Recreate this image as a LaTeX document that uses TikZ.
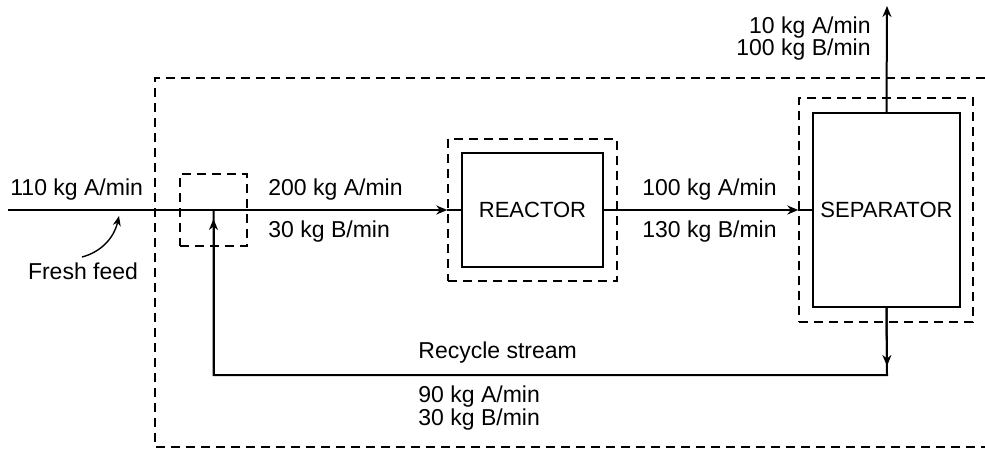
\documentclass[tikz,border=0pt]{standalone}
\usepackage{fontspec}
\setmainfont{Liberation Sans}
\usetikzlibrary{arrows.meta,positioning}
\tikzset{
  unit/.style={draw,line width=0.8pt,fill=white,inner sep=0pt,font=\fontsize{11}{13}\selectfont},
  env/.style={draw,line width=0.7pt,dash pattern=on 4.5pt off 3pt,inner sep=0pt},
  pipe/.style={line width=1pt},
  flow/.style={pipe,-{Stealth[length=5.5pt,width=4.5pt]}},
  lbl/.style={font=\fontsize{11.5}{13}\selectfont,inner sep=0pt},
}

\begin{document}
\begin{tikzpicture}[x=0.5pt,y=-0.5pt]
  \useasboundingbox (0,0) rectangle (985,450);

  % ---- overall balance envelope ----
  \draw[line width=0.7pt,dash pattern=on 4.5pt off 3pt] (985,78) -- (155,78) -- (155,447) -- (985,447);

  % ---- units ----
  \node[env,minimum width=33.5pt,minimum height=36pt] (mix) at (213.5,210) {};
  \node[env,minimum width=84.5pt,minimum height=71pt] (reactorenv) at (532.5,210) {};
  \node[unit,minimum width=70.5pt,minimum height=57pt] (reactor) at (532.5,210) {REACTOR};
  \node[env,minimum width=87pt,minimum height=112pt] (sepenv) at (886,210) {};
  \node[unit,minimum width=73.5pt,minimum height=97pt] (separator) at (886.5,210) {SEPARATOR};

  % ---- points on the streams ----
  \coordinate (inlet) at (8,210);
  \coordinate (productout) at (887,6);
  \coordinate (sepdrop) at (887,366);
  \coordinate (sepbot) at (887,375);
  \coordinate (mixbot) at (213.5,375);
  \coordinate (mixtip) at (213.5,219);
  \coordinate (feedtail) at (82,257);
  \coordinate (feedtip) at (119,216);

  % ---- streams ----
  \draw[flow] (inlet) -- (reactorenv.west);
  \draw[pipe] (reactorenv.west) -- (reactor.west);
  \draw[flow] (reactor.east) -- (sepenv.west);
  \draw[pipe] (sepenv.west) -- (separator.west);
  \draw[flow] (separator.north) -- (productout);
  \draw[pipe] (separator.south) -- (sepbot) -- (mixbot) -- (mix.center);
  \draw[flow] (separator.south) -- (sepdrop);
  \draw[flow] (mixbot) -- (mixtip);
  \draw[line width=0.7pt,-{Stealth[length=5pt,width=4pt]}] (feedtail) .. controls (101,252) and (114,238) .. (feedtip);

  % ---- labels ----
  \node[lbl,anchor=west] (feedrate) at (10,190) {110 kg A/min};
  \node[lbl] (feedlbl) at (83,271) {Fresh feed};
  \node[lbl,anchor=west] (ina) at (268,190) {200 kg A/min};
  \node[lbl,anchor=west] (inb) at (268,232) {30 kg B/min};
  \node[lbl,anchor=west] (outa) at (642,190) {100 kg A/min};
  \node[lbl,anchor=west] (outb) at (642,232) {130 kg B/min};
  \node[lbl,anchor=east] (topa) at (871,28) {10 kg A/min};
  \node[lbl,anchor=east] (topb) at (871,50) {100 kg B/min};
  \node[lbl,anchor=west] (reclbl) at (418,353) {Recycle stream};
  \node[lbl,anchor=west] (reca) at (418,397) {90 kg A/min};
  \node[lbl,anchor=west] (recb) at (418,420) {30 kg B/min};
\end{tikzpicture}
\end{document}
